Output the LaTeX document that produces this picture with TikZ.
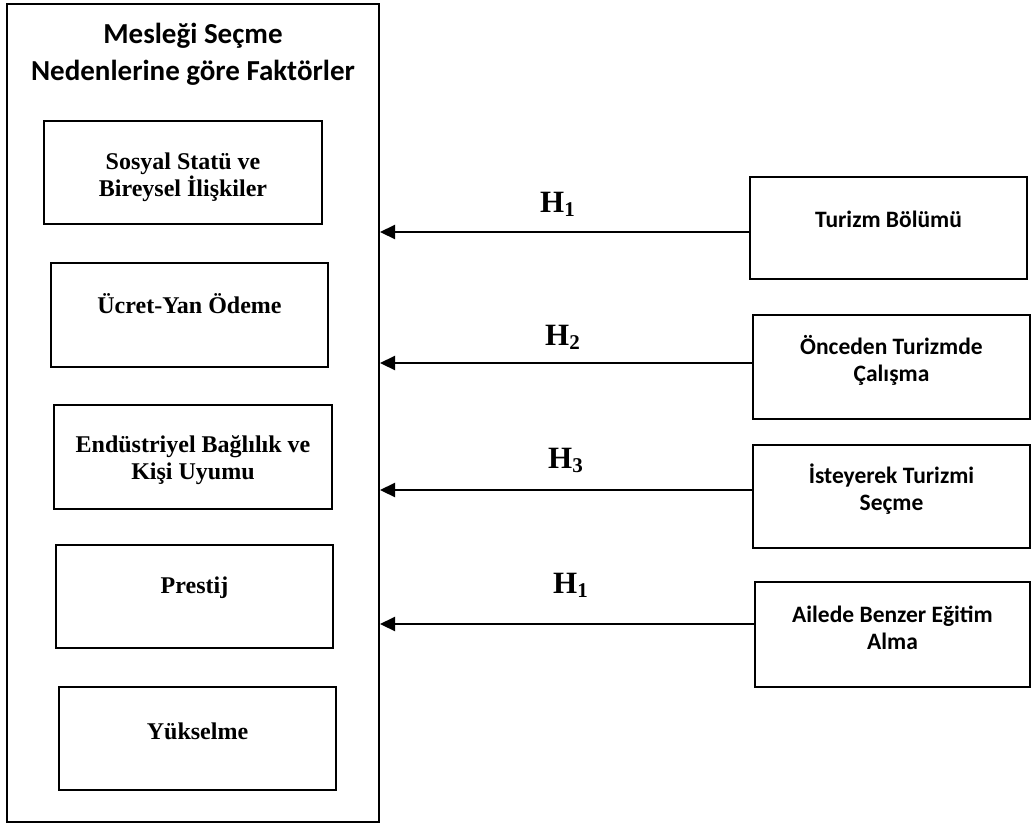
\documentclass[tikz,border=0pt]{standalone}
\usepackage{fontspec}
\setmainfont{Liberation Serif}
\newfontfamily\calib{Carlito}
\usetikzlibrary{arrows.meta}
\tikzset{
  outerbox/.style={draw, line width=2pt, minimum width=372pt, minimum height=818pt, inner sep=0pt},
  lbox/.style={draw, line width=2.5pt, minimum width=277pt, minimum height=103pt, inner sep=0pt},
  rbox/.style={draw, line width=2.5pt, minimum width=277pt, minimum height=103pt, inner sep=0pt},
  ltext/.style={align=center, inner sep=0pt, font=\fontsize{24}{27}\selectfont\bfseries},
  rtext/.style={align=center, inner sep=0pt, font=\calib\fontsize{23.5}{27}\selectfont\bfseries},
  ttext/.style={align=center, inner sep=0pt, font=\calib\fontsize{29}{37}\selectfont\bfseries},
  hlab/.style={anchor=base west, inner sep=0pt, font=\fontsize{31}{31}\selectfont\bfseries},
  arr/.style={line width=2.2pt, -{Triangle[length=15pt,width=14pt]}}
}
\newcommand{\hsub}[1]{\raisebox{-4pt}{\fontsize{21}{21}\selectfont #1}}
\begin{document}
\begin{tikzpicture}[x=1pt,y=-1pt]
\useasboundingbox (0,0) rectangle (1031,825);
% outer box
\node[outerbox] (outer) at (193,413) {};
\node[ttext] (title) at (193,54) {Mesleği Seçme\\Nedenlerine göre Faktörler};
% left boxes
\node[lbox, minimum width=278pt] (b1) at (183,172.5) {};
\node[ltext] (b1t) at (183,177) {Sosyal Statü ve\\Bireysel İlişkiler};
\node[lbox, minimum height=104pt] (b2) at (189.5,315) {};
\node[ltext] (b2t) at (189.5,304) {Ücret-Yan Ödeme};
\node[lbox, minimum width=278pt, minimum height=104pt] (b3) at (193,457) {};
\node[ltext] (b3t) at (193,460) {Endüstriyel Bağlılık ve\\Kişi Uyumu};
\node[lbox] (b4) at (194.5,596.5) {};
\node[ltext] (b4t) at (194.5,588) {Prestij};
\node[lbox] (b5) at (197.5,738.5) {};
\node[ltext] (b5t) at (197.5,731) {Yükselme};
% right boxes
\node[rbox, minimum height=102pt] (r1) at (888.5,228) {};
\node[rtext] (r1t) at (888.5,219) {Turizm Bölümü};
\node[rbox, minimum height=104pt] (r2) at (891.5,367) {};
\node[rtext] (r2t) at (891.5,360) {Önceden Turizmde\\Çalışma};
\node[rbox] (r3) at (891.5,496.5) {};
\node[rtext] (r3t) at (891.5,489) {İsteyerek Turizmi\\Seçme};
\node[rbox, minimum width=275pt, minimum height=105pt] (r4) at (892.5,634.5) {};
\node[rtext] (r4t) at (892.5,627.5) {Ailede Benzer Eğitim\\Alma};
% arrow targets on the outer box
\coordinate (t1) at (outer.east |- 0,232);
\coordinate (t2) at (outer.east |- 0,363);
\coordinate (t3) at (outer.east |- 0,490);
\coordinate (t4) at (outer.east |- 0,624);
\draw[arr] (r1.west |- t1) -- (t1);
\draw[arr] (r2.west |- t2) -- (t2);
\draw[arr] (r3.west |- t3) -- (t3);
\draw[arr] (r4.west |- t4) -- (t4);
% labels
\node[hlab] (h1) at (540,212) {H\hsub{1}};
\node[hlab] (h2) at (545,345) {H\hsub{2}};
\node[hlab] (h3) at (548,468) {H\hsub{3}};
\node[hlab] (h4) at (553,593) {H\hsub{1}};
\end{tikzpicture}
\end{document}
